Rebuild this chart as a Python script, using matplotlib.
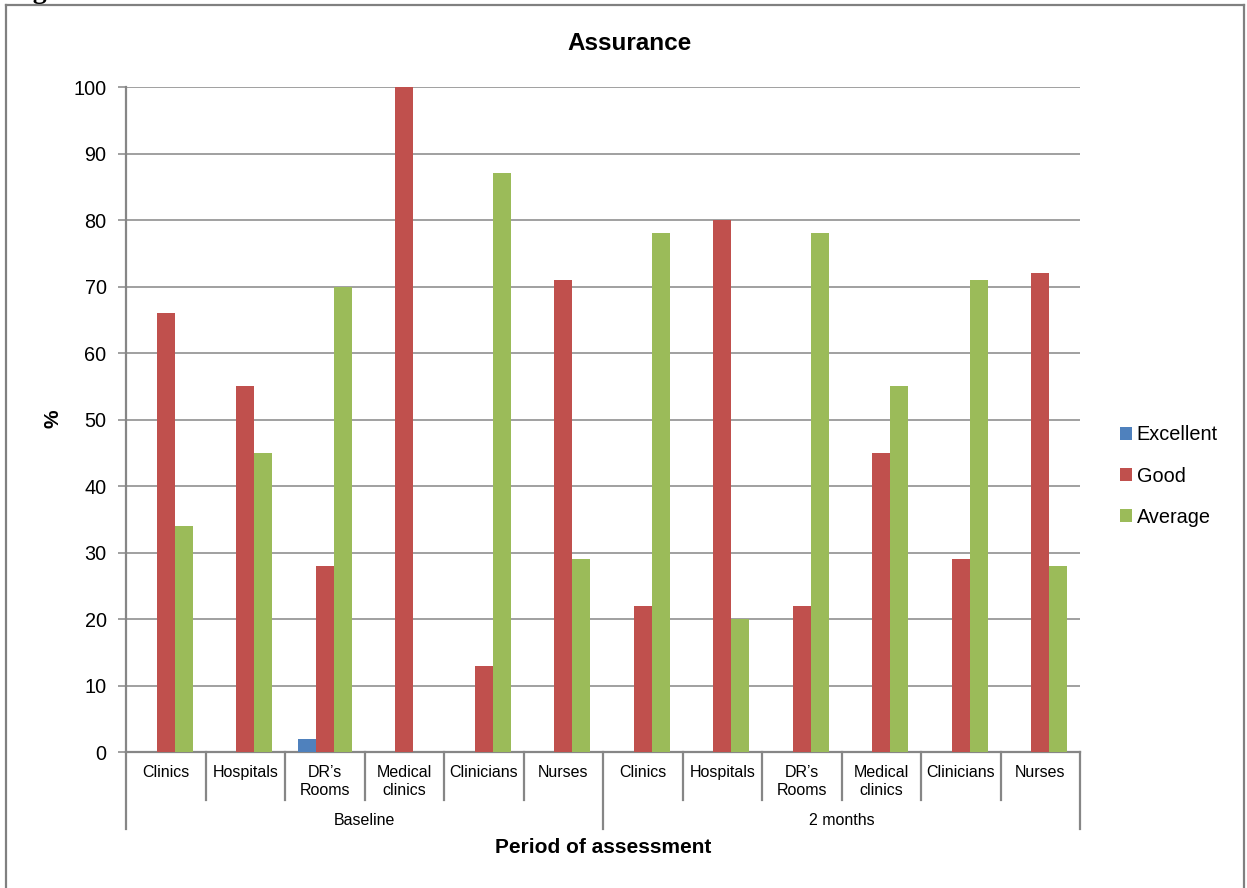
import matplotlib
matplotlib.use("Agg")
import matplotlib.pyplot as plt
from matplotlib.lines import Line2D
import numpy as np

plt.rcParams['font.family'] = ['Liberation Sans', 'DejaVu Sans']

# Data
periods = ["Baseline", "2 months"]
categories = ["Clinics", "Hospitals", "DR\u2019s\nRooms", "Medical\nclinics", "Clinicians", "Nurses"]
series_names = ["Excellent", "Good", "Average"]
excellent = [0, 0, 2, 0, 0, 0, 0, 0, 0, 0, 0, 0]
good = [66, 55, 28, 100, 13, 71, 22, 80, 22, 45, 29, 72]
average = [34, 45, 70, 0, 87, 29, 78, 20, 78, 55, 71, 28]
colors = ["#4F81BD", "#C0504D", "#9BBB59"]
y_ticks = [0, 10, 20, 30, 40, 50, 60, 70, 80, 90, 100]

W, H = 1247, 888
fig = plt.figure(figsize=(W / 100, H / 100), dpi=100)
fig.patch.set_facecolor("white")

left_px, right_px, top_px, bottom_px = 126, 1080, 87, 752
ax = fig.add_axes([left_px / W, 1 - bottom_px / H,
                   (right_px - left_px) / W, (bottom_px - top_px) / H])

n = len(categories) * len(periods)
x = np.arange(n) + 0.5
bw = 0.225
for k, (vals, name) in enumerate(zip([excellent, good, average], series_names)):
    ax.bar(x + (k - 1) * bw, vals, width=bw, color=colors[k], label=name,
           linewidth=0, zorder=3)

ax.set_xlim(0, n)
ax.set_ylim(0, 100)
ax.set_yticks(y_ticks)
ax.set_yticklabels([str(v) for v in y_ticks], fontsize=14.3)
grid_c = "#868686"
ax.yaxis.grid(True, color=grid_c, linewidth=1.1, zorder=0)
ax.set_axisbelow(True)
ax.tick_params(axis="y", direction="out", length=6, width=1.1, color=grid_c, pad=8)
ax.set_xticks([])
for s in ["top", "right"]:
    ax.spines[s].set_visible(False)
for s in ["left", "bottom"]:
    ax.spines[s].set_color(grid_c)
    ax.spines[s].set_linewidth(1.6)

# multi-level category axis
ax_h = bottom_px - top_px
def ay(py):
    return (bottom_px - py) / ax_h

tr = ax.get_xaxis_transform()
for i in range(n + 1):
    if i % len(categories) == 0:
        y_end = ay(829)
    else:
        y_end = ay(800)
    ax.add_line(Line2D([i, i], [0, y_end], transform=tr, color=grid_c,
                       linewidth=1.6, clip_on=False))

for i in range(n):
    lab = categories[i % len(categories)]
    ax.text(i + 0.5, ay(765), lab, transform=tr, ha="center", va="top",
            fontsize=11.5, linespacing=1.22)

for j, p in enumerate(periods):
    ax.text(j * len(categories) + len(categories) / 2, ay(820), p, transform=tr,
            ha="center", va="center", fontsize=11.5)

ax.text(n / 2, ay(847), "Period of assessment", transform=tr, ha="center",
        va="center", fontsize=15, fontweight="bold")

fig.text(630 / W, 1 - 43 / H, "Assurance", ha="center", va="center",
         fontsize=17.5, fontweight="bold")
fig.text(53 / W, 1 - 419 / H, "%", ha="center", va="center", rotation=90,
         fontsize=15, fontweight="bold")

leg = ax.legend(loc="center left", bbox_to_anchor=(1112 / W, 1 - 476 / H),
                bbox_transform=fig.transFigure, frameon=False, fontsize=14.3,
                handlelength=0.6, handleheight=0.6, handletextpad=0.25,
                labelspacing=1.12, borderaxespad=0)

# outer frame
fc = "#808080"
fig.add_artist(Line2D([6 / W, 6 / W], [0, 1 - 5 / H], color=fc, linewidth=1.6,
                      transform=fig.transFigure))
fig.add_artist(Line2D([6 / W, 1244 / W], [1 - 5 / H, 1 - 5 / H], color=fc,
                      linewidth=1.6, transform=fig.transFigure))
fig.add_artist(Line2D([1244 / W, 1244 / W], [0, 1 - 5 / H], color=fc,
                      linewidth=1.6, transform=fig.transFigure))

fig.text(8 / W, 1 + 2 / H, "Figure 5", ha="left", va="baseline",
         fontsize=20, fontweight="bold", family="Liberation Serif")

fig.savefig("out.png", dpi=100, facecolor="white")
